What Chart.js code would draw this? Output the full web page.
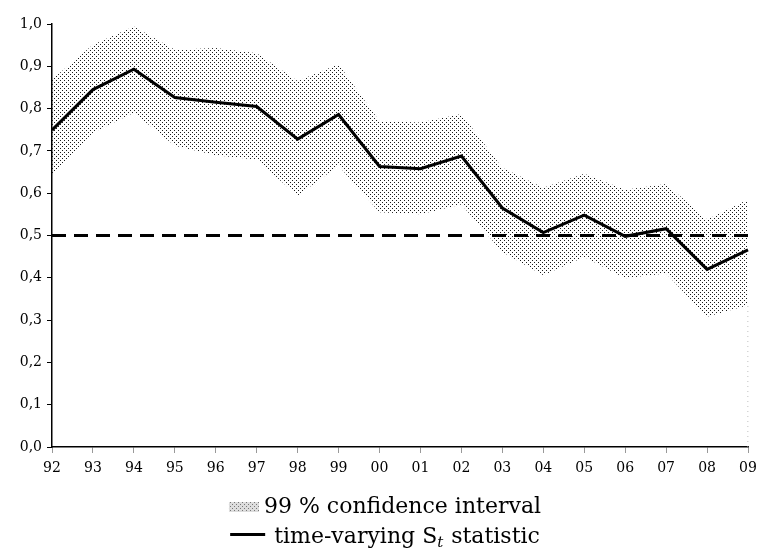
<!DOCTYPE html>
<html>
<head>
<meta charset="utf-8">
<script src="https://cdn.jsdelivr.net/npm/chart.js@4/dist/chart.umd.min.js"></script>
<style>
  body { margin: 0; background: #fff; }
  #box { width: 758px; height: 549px; }
</style>
</head>
<body>
<div id="box"><canvas id="chart"></canvas></div>
<script>
const years = ['92','93','94','95','96','97','98','99','00','01','02','03','04','05','06','07','08','09'];
const stat  = [0.749,0.845,0.893,0.826,0.815,0.805,0.728,0.786,0.663,0.658,0.688,0.565,0.507,0.548,0.498,0.516,0.420,0.466];
const upper = [0.869,0.951,0.994,0.939,0.943,0.931,0.865,0.905,0.770,0.767,0.787,0.660,0.613,0.646,0.608,0.622,0.538,0.585];
const lower = [0.641,0.743,0.790,0.712,0.690,0.679,0.594,0.665,0.555,0.550,0.573,0.461,0.406,0.449,0.399,0.410,0.308,0.335];
const threshold = 0.5;

// dotted fill like the original
function dotPattern(color) {
    const c = document.createElement('canvas');
    c.width = 4; c.height = 4;
    const g = c.getContext('2d');
    g.fillStyle = color;
    g.fillRect(0, 0, 1, 1);
    g.fillRect(2, 2, 1, 1);
    return g.createPattern(c, 'repeat');
}

const serif = '"DejaVu Serif", serif';
const tickFont = { family: serif, size: 14 };
const last = years[years.length - 1];

// two stacked legend rows under the axis
const stackedLegend = {
    id: 'stackedLegend',
    afterDraw(chart) {
        const ctx = chart.ctx;
        const cx = 385;
        ctx.save();
        ctx.fillStyle = '#000';
        ctx.textBaseline = 'alphabetic';
        ctx.font = '22px ' + serif;

        // row 1: band swatch
        const t1 = '99 % confidence interval';
        const w1 = 30 + 5 + ctx.measureText(t1).width;
        let x = cx - w1 / 2;
        ctx.fillStyle = '#ddd';
        ctx.fillRect(x, 502, 30, 10);
        ctx.fillStyle = dotPattern('#777');
        ctx.fillRect(x, 502, 30, 10);
        ctx.fillStyle = '#000';
        ctx.fillText(t1, x + 35, 513);

        // row 2: line sample + S_t
        const a = 'time-varying S', b = 't', c = ' statistic';
        ctx.font = '22px ' + serif;
        const wa = ctx.measureText(a).width, wc = ctx.measureText(c).width;
        ctx.font = 'italic 15px ' + serif;
        const wb = ctx.measureText(b).width;
        const w2 = 35 + 9 + wa + wb + 1 + wc;
        x = cx - w2 / 2;
        ctx.fillRect(x, 533, 35, 3);
        x += 44;
        ctx.font = '22px ' + serif;
        ctx.fillText(a, x, 543);
        x += wa;
        ctx.font = 'italic 15px ' + serif;
        ctx.fillText(b, x, 547);
        x += wb + 1;
        ctx.font = '22px ' + serif;
        ctx.fillText(c, x, 543);
        ctx.restore();
    }
};

new Chart(document.getElementById('chart'), {
    type: 'line',
    data: {
        labels: years,
        datasets: [
            { label: 'upper', data: upper, borderWidth: 0, pointRadius: 0, fill: '+1',
              backgroundColor: dotPattern('#1a1a1a'), order: 3 },
            { label: 'lower', data: lower, borderWidth: 0, pointRadius: 0, fill: false, order: 3 },
            { label: 'threshold', data: years.map(() => threshold), borderColor: '#000', borderWidth: 3,
              borderDash: [14, 8], pointRadius: 0, fill: false, order: 2 },
            { label: 'stat', data: stat, borderColor: '#000', borderWidth: 3, pointRadius: 0,
              fill: false, tension: 0, order: 1 },
            // faint dotted edge below the band at the last year
            { label: 'edge', data: [{ x: last, y: 0 }, { x: last, y: lower[lower.length - 1] }],
              borderColor: '#aaa', borderWidth: 1, borderDash: [1, 4], pointRadius: 0, fill: false, order: 4 }
        ]
    },
    options: {
        responsive: true,
        maintainAspectRatio: false,
        animation: false,
        layout: { padding: { top: 24, right: 10, left: 0, bottom: 64 } },
        plugins: { legend: { display: false }, tooltip: { enabled: false } },
        scales: {
            x: {
                grid: { drawOnChartArea: false, color: '#999', tickLength: 6 },
                border: { color: '#000', width: 1.5 },
                ticks: { color: '#000', font: tickFont, padding: 7, maxRotation: 0, autoSkip: false },
                afterFit: s => { s.height = 38; s.paddingLeft = 0; s.paddingRight = 0; }
            },
            y: {
                min: 0, max: 1,
                grid: { drawOnChartArea: false, color: '#000', tickLength: 5 },
                border: { color: '#000', width: 1.5 },
                ticks: { color: '#000', font: tickFont, padding: 5, stepSize: 0.1,
                         callback: v => v.toFixed(1).replace('.', ',') },
                afterFit: s => { s.width = 52; s.paddingTop = 0; s.paddingBottom = 0; }
            }
        }
    },
    plugins: [stackedLegend]
});
</script>
</body>
</html>
